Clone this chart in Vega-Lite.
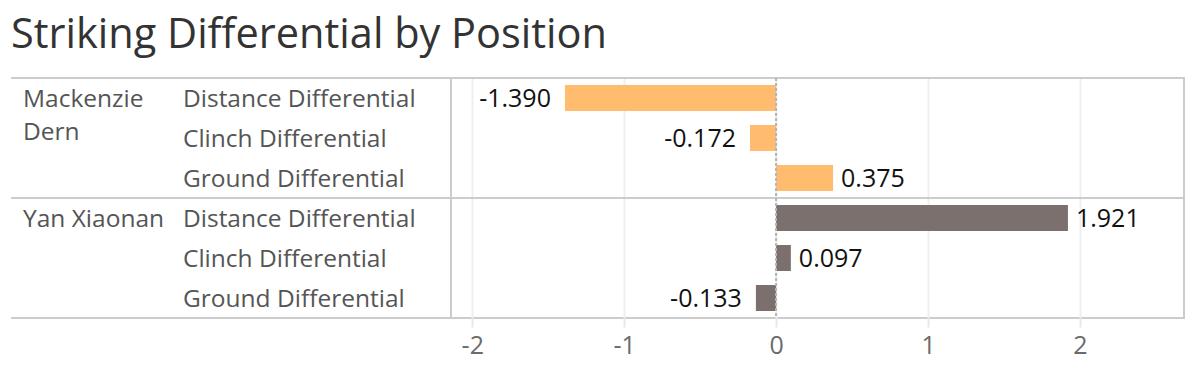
{
  "$schema": "https://vega.github.io/schema/vega-lite/v6.json",
  "padding": {"left": 10, "top": 14, "right": 13, "bottom": 0},
  "bounds": "flush",
  "title": {"text": "Striking Differential by Position", "anchor": "start", "fontSize": 41.5, "font": "Open Sans", "fontWeight": "normal", "color": "#333333", "offset": 20, "dx": 1},
  "data": {"values": [
    {"fighter": "Mackenzie Dern", "category": "Distance Differential", "value": -1.390},
    {"fighter": "Mackenzie Dern", "category": "Clinch Differential", "value": -0.172},
    {"fighter": "Mackenzie Dern", "category": "Ground Differential", "value": 0.375},
    {"fighter": "Yan Xiaonan", "category": "Distance Differential", "value": 1.921},
    {"fighter": "Yan Xiaonan", "category": "Clinch Differential", "value": 0.097},
    {"fighter": "Yan Xiaonan", "category": "Ground Differential", "value": -0.133}
  ]},
  "transform": [{"calculate": "datum.fighter + '|' + datum.category", "as": "key"}],
  "spacing": 0,
  "resolve": {"scale": {"y": "shared", "x": "independent"}},
  "hconcat": [
    {
      "width": 165, "height": 240,
      "view": {"stroke": null},
      "layer": [
        {
          "mark": {"type": "rule", "color": "#cccccc", "strokeWidth": 2},
          "transform": [{"filter": "datum.category == 'Distance Differential'"}],
          "encoding": {"y": {"field": "key", "type": "nominal", "bandPosition": 0, "sort": ["Mackenzie Dern|Distance Differential", "Mackenzie Dern|Clinch Differential", "Mackenzie Dern|Ground Differential", "Yan Xiaonan|Distance Differential", "Yan Xiaonan|Clinch Differential", "Yan Xiaonan|Ground Differential"], "scale": {"paddingInner": 0, "paddingOuter": 0}, "axis": null}}
        },
        {
          "mark": {"type": "rule", "color": "#cccccc", "strokeWidth": 2},
          "transform": [{"filter": "datum.key == 'Yan Xiaonan|Ground Differential'"}],
          "encoding": {"y": {"field": "key", "type": "nominal", "bandPosition": 1, "sort": ["Mackenzie Dern|Distance Differential", "Mackenzie Dern|Clinch Differential", "Mackenzie Dern|Ground Differential", "Yan Xiaonan|Distance Differential", "Yan Xiaonan|Clinch Differential", "Yan Xiaonan|Ground Differential"], "axis": null}}
        },
        {
          "mark": {"type": "text", "align": "left", "baseline": "alphabetic", "dx": 12, "dy": 9, "fontSize": 24.5, "font": "Open Sans", "color": "#555555", "lineHeight": 33},
          "transform": [
            {"filter": "datum.category == 'Distance Differential'"},
            {"calculate": "length(datum.fighter) > 12 ? split(datum.fighter, ' ') : datum.fighter", "as": "nameLabel"}
          ],
          "encoding": {
            "y": {"field": "key", "type": "nominal", "sort": ["Mackenzie Dern|Distance Differential", "Mackenzie Dern|Clinch Differential", "Mackenzie Dern|Ground Differential", "Yan Xiaonan|Distance Differential", "Yan Xiaonan|Clinch Differential", "Yan Xiaonan|Ground Differential"], "axis": null},
            "x": {"datum": 0, "type": "quantitative", "scale": {"domain": [0, 1]}, "axis": null},
            "text": {"field": "nameLabel"}
          }
        }
      ]
    },
    {
      "width": 275, "height": 240,
      "view": {"stroke": null},
      "layer": [
        {
          "mark": {"type": "rule", "color": "#cccccc", "strokeWidth": 2},
          "transform": [{"filter": "datum.category == 'Distance Differential'"}],
          "encoding": {"y": {"field": "key", "type": "nominal", "bandPosition": 0, "sort": ["Mackenzie Dern|Distance Differential", "Mackenzie Dern|Clinch Differential", "Mackenzie Dern|Ground Differential", "Yan Xiaonan|Distance Differential", "Yan Xiaonan|Clinch Differential", "Yan Xiaonan|Ground Differential"], "axis": null}}
        },
        {
          "mark": {"type": "rule", "color": "#cccccc", "strokeWidth": 2},
          "transform": [{"filter": "datum.key == 'Yan Xiaonan|Ground Differential'"}],
          "encoding": {"y": {"field": "key", "type": "nominal", "bandPosition": 1, "sort": ["Mackenzie Dern|Distance Differential", "Mackenzie Dern|Clinch Differential", "Mackenzie Dern|Ground Differential", "Yan Xiaonan|Distance Differential", "Yan Xiaonan|Clinch Differential", "Yan Xiaonan|Ground Differential"], "axis": null}}
        },
        {
          "mark": {"type": "text", "align": "left", "baseline": "alphabetic", "dx": 7, "dy": 9, "fontSize": 24.5, "font": "Open Sans", "color": "#555555"},
          "encoding": {
            "y": {"field": "key", "type": "nominal", "sort": ["Mackenzie Dern|Distance Differential", "Mackenzie Dern|Clinch Differential", "Mackenzie Dern|Ground Differential", "Yan Xiaonan|Distance Differential", "Yan Xiaonan|Clinch Differential", "Yan Xiaonan|Ground Differential"], "axis": null},
            "x": {"datum": 0, "type": "quantitative", "scale": {"domain": [0, 1]}, "axis": null},
            "text": {"field": "category"}
          }
        }
      ]
    },
    {
      "width": 733, "height": 240,
      "view": {"stroke": "#cccccc", "strokeWidth": 2},
      "encoding": {
        "y": {"field": "key", "type": "nominal", "sort": ["Mackenzie Dern|Distance Differential", "Mackenzie Dern|Clinch Differential", "Mackenzie Dern|Ground Differential", "Yan Xiaonan|Distance Differential", "Yan Xiaonan|Clinch Differential", "Yan Xiaonan|Ground Differential"], "axis": null},
        "x": {"field": "value", "type": "quantitative", "scale": {"domain": [-2.14, 2.685], "nice": false, "zero": false},
          "axis": {"values": [-2, -1, 0, 1, 2], "title": null, "grid": true, "gridColor": "#efefef", "gridWidth": 2, "domain": false, "tickColor": "#e8e8e8", "tickWidth": 2, "tickSize": 9, "labelFontSize": 25, "labelFont": "Open Sans", "labelColor": "#6b6b6b", "labelPadding": 6, "format": "d"}}
      },
      "layer": [
        {
          "mark": {"type": "rule", "color": "#cccccc", "strokeWidth": 2},
          "transform": [{"filter": "datum.category == 'Distance Differential'"}],
          "encoding": {"y": {"field": "key", "type": "nominal", "bandPosition": 0, "sort": ["Mackenzie Dern|Distance Differential", "Mackenzie Dern|Clinch Differential", "Mackenzie Dern|Ground Differential", "Yan Xiaonan|Distance Differential", "Yan Xiaonan|Clinch Differential", "Yan Xiaonan|Ground Differential"], "axis": null}, "x": null}
        },
        {
          "mark": {"type": "bar", "height": {"band": 0.65}},
          "encoding": {
            "color": {"field": "fighter", "type": "nominal", "scale": {"domain": ["Mackenzie Dern", "Yan Xiaonan"], "range": ["#FFBB6E", "#7B706E"]}, "legend": null}
          }
        },
        {
          "mark": {"type": "rule", "color": "#b5b5b5", "strokeWidth": 1.2, "strokeDash": [3, 2]},
          "encoding": {"x": {"datum": 0, "type": "quantitative"}, "y": null}
        },
        {
          "mark": {"type": "text", "align": "right", "baseline": "alphabetic", "dx": -14, "dy": 9, "fontSize": 25, "font": "Open Sans", "color": "#111111"},
          "transform": [{"filter": "datum.value < 0"}],
          "encoding": {"text": {"field": "value", "type": "quantitative", "format": ".3f"}}
        },
        {
          "mark": {"type": "text", "align": "left", "baseline": "alphabetic", "dx": 8, "dy": 9, "fontSize": 25, "font": "Open Sans", "color": "#111111"},
          "transform": [{"filter": "datum.value >= 0"}],
          "encoding": {"text": {"field": "value", "type": "quantitative", "format": ".3f"}}
        }
      ]
    }
  ],
  "config": {
    "view": {"stroke": null},
    "font": "Open Sans",
    "locale": {"number": {"decimal": ".", "thousands": ",", "grouping": [3], "currency": ["$", ""], "minus": "-"}}
  }
}
